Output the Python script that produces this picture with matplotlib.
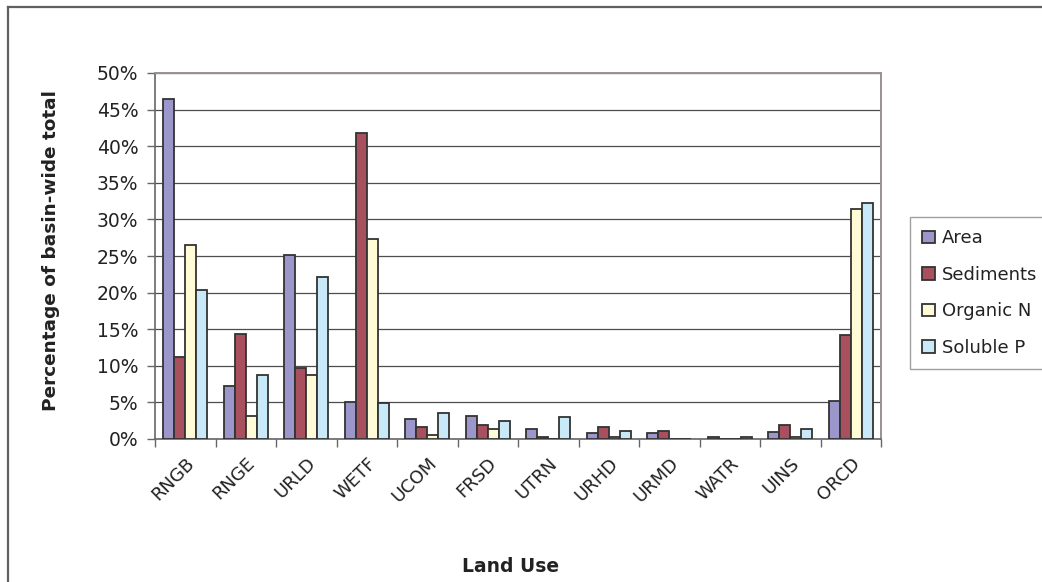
import matplotlib
matplotlib.use("Agg")
import matplotlib.pyplot as plt
from matplotlib.lines import Line2D
from matplotlib.ticker import FixedLocator, PercentFormatter
import numpy as np

plt.rcParams['font.family'] = ['DejaVu Sans']

# Share of basin-wide totals by land use (percent)
land_uses = ["RNGB", "RNGE", "URLD", "WETF", "UCOM", "FRSD",
             "UTRN", "URHD", "URMD", "WATR", "UINS", "ORCD"]
area      = [46.4, 7.3, 25.1, 5.1, 2.7, 3.2, 1.4, 0.8, 0.8, 0.3, 1.0, 5.2]
sediments = [11.2, 14.4, 9.7, 41.8, 1.6, 1.9, 0.3, 1.7, 1.1, 0.0, 1.9, 14.2]
organic_n = [26.5, 3.2, 8.7, 27.3, 0.5, 1.3, 0.0, 0.3, 0.0, 0.0, 0.3, 31.4]
soluble_p = [20.4, 8.7, 22.1, 4.9, 3.5, 2.5, 3.0, 1.1, 0.0, 0.3, 1.3, 32.2]

series_names = ["Area", "Sediments", "Organic N", "Soluble P"]
series_vals = [area, sediments, organic_n, soluble_p]
colors = ["#9c97cb", "#a8505e", "#fffbd6", "#c8eaf8"]

W, H = 1042, 582
fig = plt.figure(figsize=(W / 100, H / 100), dpi=100)
ax = fig.add_axes([155 / W, 1 - 439 / H, (881 - 155) / W, (439 - 73) / H])

x = np.arange(len(land_uses))
bw = 0.183
for i, (name, vals, c) in enumerate(zip(series_names, series_vals, colors)):
    ax.bar(x + (i - 1.5) * bw, vals, width=bw, color=c, edgecolor="#333333",
           linewidth=1.3, label=name, zorder=3)

ax.set_xlim(-0.5, len(land_uses) - 0.5)
ax.set_ylim(0, 50)
ax.set_yticks(np.arange(0, 51, 5))
ax.yaxis.set_major_formatter(PercentFormatter(decimals=0))
ax.yaxis.grid(True, color="#4d4d4d", linewidth=0.9, zorder=0)
ax.set_axisbelow(True)

ax.set_xticks(x)
ax.set_xticklabels(land_uses, rotation=45, ha="right", va="top",
                   rotation_mode="anchor")
ax.xaxis.set_minor_locator(FixedLocator(np.arange(-0.5, len(land_uses), 1.0)))
ax.tick_params(axis="x", which="major", length=0, pad=11, labelsize=13,
               labelcolor="#222222")
ax.tick_params(axis="x", which="minor", length=6, width=1, color="#666666")
ax.tick_params(axis="y", which="major", length=6, width=1, color="#666666",
               pad=6, labelsize=13.5, labelcolor="#222222")

for side in ("top", "right"):
    ax.spines[side].set_color("#9c8f8f")
    ax.spines[side].set_linewidth(1.4)
for side in ("left", "bottom"):
    ax.spines[side].set_color("#666666")
    ax.spines[side].set_linewidth(1.2)

fig.text(51 / W, 1 - 251 / H, "Percentage of basin-wide total", rotation=90,
         ha="center", va="center", fontsize=13.3, fontweight="bold",
         color="#222222")
fig.text(511 / W, 1 - 572 / H, "Land Use", ha="center", va="baseline",
         fontsize=13.5, fontweight="bold", color="#222222")

leg = fig.legend(loc="upper left", bbox_to_anchor=(910 / W, 1 - 217 / H),
                 frameon=True, fancybox=False, fontsize=13, borderaxespad=0,
                 handlelength=0.7, handleheight=0.7, handletextpad=0.4,
                 labelspacing=1.03, borderpad=0.68)
leg.get_frame().set_edgecolor("#888888")
leg.get_frame().set_linewidth(1.0)
for t in leg.get_texts():
    t.set_color("#222222")

# outer chart frame
fig.add_artist(Line2D([8 / W, 8 / W], [0, 1 - 7 / H], transform=fig.transFigure,
                      color="#606060", linewidth=1.6))
fig.add_artist(Line2D([8 / W, 1], [1 - 7 / H, 1 - 7 / H], transform=fig.transFigure,
                      color="#606060", linewidth=1.6))

fig.savefig("out.png", dpi=100)
